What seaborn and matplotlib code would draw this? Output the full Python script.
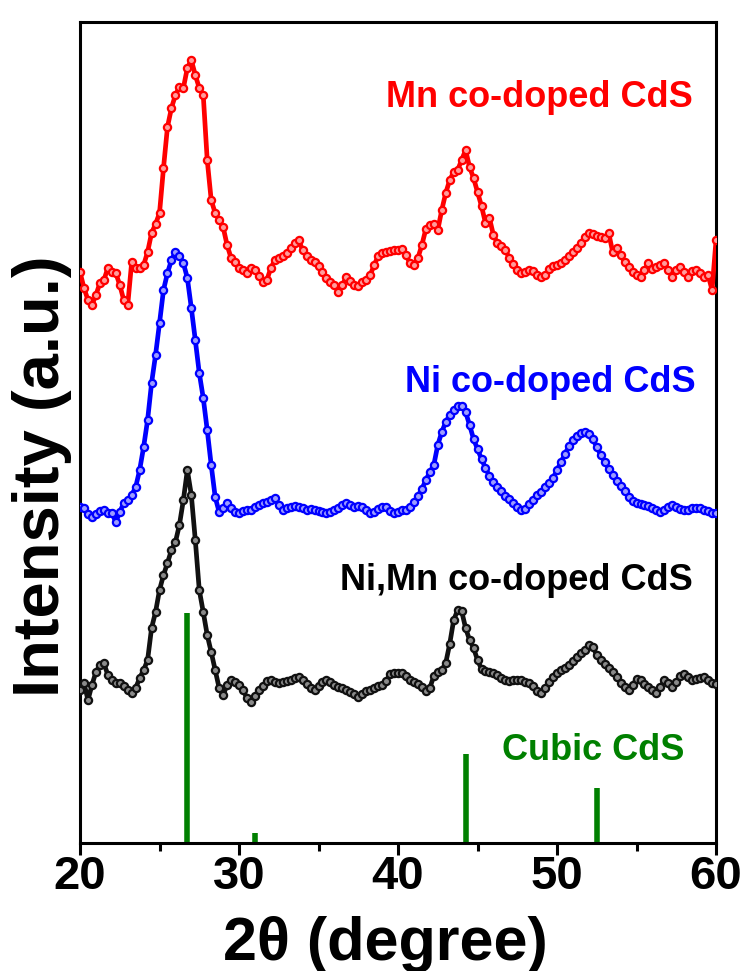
import numpy as np
import pandas as pd
import matplotlib
matplotlib.use("Agg")
import matplotlib.pyplot as plt
import seaborn as sns
from matplotlib.ticker import MultipleLocator

# ---------------- data ----------------
two_theta = [20.00 + 0.25 * i for i in range(161)]

mn_codoped = [
    571, 555, 543, 538, 548, 560, 563, 575, 571, 570, 558, 543, 538, 581, 575, 575,
    578, 591, 610, 619, 630, 675, 716, 735, 748, 756, 755, 775, 783, 768, 755, 748,
    683, 643, 630, 623, 616, 598, 585, 581, 575, 573, 570, 575, 573, 567, 561, 563,
    575, 583, 585, 587, 590, 595, 600, 603, 593, 587, 583, 581, 577, 571, 565, 561,
    558, 551, 558, 566, 562, 558, 557, 561, 563, 568, 578, 587, 590, 591, 592, 593,
    593, 594, 588, 580, 578, 585, 598, 614, 618, 619, 613, 633, 650, 663, 671, 673,
    683, 693, 676, 665, 651, 637, 620, 625, 608, 600, 597, 593, 585, 579, 573, 570,
    571, 573, 572, 568, 566, 568, 574, 577, 578, 580, 583, 587, 591, 595, 600, 606,
    610, 609, 607, 606, 605, 610, 591, 595, 588, 581, 576, 571, 568, 566, 573, 580,
    574, 576, 578, 580, 573, 566, 573, 576, 571, 566, 572, 573, 570, 566, 568, 553,
    603]

ni_codoped = [
    336, 335, 329, 326, 329, 332, 333, 330, 330, 321, 331, 340, 343, 348, 356, 373,
    396, 423, 460, 488, 520, 553, 570, 583, 591, 587, 580, 565, 535, 503, 470, 445,
    413, 378, 346, 331, 335, 340, 335, 331, 330, 332, 333, 333, 336, 338, 340, 341,
    343, 345, 338, 333, 335, 336, 337, 336, 335, 333, 334, 333, 332, 331, 330, 331,
    333, 335, 338, 340, 338, 336, 337, 336, 333, 330, 331, 334, 336, 336, 332, 330,
    331, 333, 333, 336, 341, 347, 354, 363, 371, 378, 398, 411, 421, 428, 433, 437,
    437, 431, 418, 404, 394, 384, 375, 367, 361, 356, 352, 347, 344, 340, 336, 333,
    334, 339, 343, 348, 351, 356, 360, 365, 373, 381, 389, 397, 403, 407, 410, 411,
    409, 404, 396, 388, 381, 374, 368, 362, 357, 352, 346, 342, 340, 339, 338, 337,
    335, 333, 331, 333, 336, 338, 336, 334, 333, 333, 335, 335, 335, 333, 332, 330,
    330]

nimn_codoped = [
    153, 160, 143, 158, 171, 178, 180, 168, 163, 160, 160, 157, 153, 150, 155, 165,
    173, 183, 215, 231, 253, 268, 280, 293, 301, 318, 343, 373, 348, 303, 253, 231,
    208, 191, 173, 155, 148, 158, 163, 161, 158, 153, 145, 141, 147, 153, 157, 162,
    163, 161, 160, 161, 162, 163, 165, 166, 163, 159, 155, 153, 157, 161, 163, 161,
    158, 156, 155, 153, 151, 149, 146, 149, 152, 153, 155, 157, 158, 162, 169, 170,
    170, 170, 167, 163, 161, 159, 156, 152, 155, 167, 171, 173, 180, 199, 223, 233,
    232, 215, 203, 195, 183, 174, 172, 171, 170, 168, 165, 163, 162, 163, 163, 163,
    161, 160, 157, 152, 150, 155, 161, 166, 170, 173, 175, 178, 182, 186, 190, 193,
    198, 196, 188, 183, 179, 175, 171, 166, 160, 156, 153, 158, 164, 163, 159, 156,
    153, 150, 156, 163, 160, 156, 161, 167, 169, 166, 163, 164, 165, 166, 163, 160,
    159]

cubic_pos = [26.7, 31.0, 44.3, 52.5]
cubic_int = [230, 10, 89, 55]

series_names = ["Mn co-doped CdS", "Ni co-doped CdS", "Ni,Mn co-doped CdS"]
series_values = [mn_codoped, ni_codoped, nimn_codoped]
series_colors = ["#ff0000", "#0000ff", "#111111"]
series_face = ["#ff9c9c", "#9c9cff", "#8a8a8a"]

df = pd.concat(
    [pd.DataFrame({"two_theta": two_theta, "intensity": v, "sample": n})
     for n, v in zip(series_names, series_values)],
    ignore_index=True,
)

# ---------------- style ----------------
sns.set_style("ticks")
plt.rcParams["font.family"] = ["Liberation Sans", "DejaVu Sans"]
plt.rcParams["font.weight"] = "bold"
plt.rcParams["text.color"] = "black"
plt.rcParams["axes.labelcolor"] = "black"
plt.rcParams["xtick.color"] = "black"
plt.rcParams["ytick.color"] = "black"

fig = plt.figure(figsize=(7.43, 9.71), dpi=100)
ax = fig.add_axes([0.1077, 0.1318, 0.8560, 0.8455])

for name, col, fc in zip(series_names, series_colors, series_face):
    sub = df[df["sample"] == name]
    sns.lineplot(data=sub, x="two_theta", y="intensity", ax=ax, color=col,
                 estimator=None, sort=True, linewidth=3.4, marker="o",
                 markersize=5.2, markeredgewidth=1.6, markeredgecolor=col,
                 markerfacecolor=fc, legend=False, zorder=3)

ax.vlines(cubic_pos, 0, cubic_int, colors="#008000", linewidth=4, zorder=2)

# labels on curves
ax.text(48.87, 736, "Mn co-doped CdS", color="#ff0000", fontsize=26,
        fontweight="bold", ha="center", va="baseline")
ax.text(49.56, 451, "Ni co-doped CdS", color="#0000ff", fontsize=26,
        fontweight="bold", ha="center", va="baseline")
ax.text(47.42, 253, "Ni,Mn co-doped CdS", color="#000000", fontsize=26,
        fontweight="bold", ha="center", va="baseline")
ax.text(52.26, 83, "Cubic CdS", color="#008000", fontsize=26,
        fontweight="bold", ha="center", va="baseline")

ax.set_xlim(20, 60)
ax.set_ylim(0, 821)
ax.xaxis.set_major_locator(MultipleLocator(10))
ax.xaxis.set_minor_locator(MultipleLocator(5))
ax.tick_params(axis="x", which="major", direction="out", length=8.6, width=2.2,
               pad=0, top=False, bottom=True, colors="black")
ax.tick_params(axis="x", which="minor", direction="out", length=5.5, width=2.2,
               top=False, bottom=True, colors="black")
ax.set_yticks([])
for lab in ax.get_xticklabels():
    lab.set_fontsize(34)
    lab.set_fontweight("bold")
    lab.set_color("black")

for s in ax.spines.values():
    s.set_linewidth(2.2)
    s.set_color("black")
    s.set_visible(True)

ax.set_xlabel("2θ (degree)", fontsize=44, fontweight="bold", color="black")
ax.xaxis.set_label_coords(0.48, -0.0885)
ax.set_ylabel("Intensity (a.u.)", fontsize=47, fontweight="bold", color="black")
ax.yaxis.set_label_coords(-0.012, 0.447)

fig.savefig("out.png", dpi=100)
